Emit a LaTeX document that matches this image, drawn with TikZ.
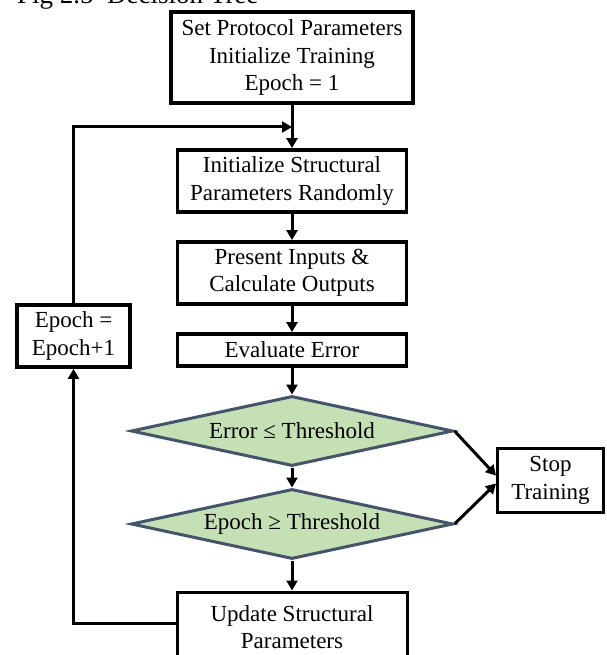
\documentclass[tikz,border=0pt]{standalone}
\usepackage{fontspec}
\setmainfont{Liberation Serif}
\usetikzlibrary{arrows.meta,shapes.geometric,calc}

\definecolor{decfill}{RGB}{197,224,180}
\definecolor{decline}{RGB}{68,84,106}

\tikzset{
  every node/.style={font=\fontsize{23}{27.5}\selectfont, align=center, inner sep=0pt},
  procbox/.style={draw=black, line width=3.8pt, fill=white},
  thinbox/.style={draw=black, line width=3pt, fill=white},
  decision/.style={diamond, draw=decline, fill=decfill, line width=3pt,
                   aspect=4.5, minimum width=322pt, minimum height=70pt},
  flow/.style={draw=black, line width=3pt,
               -{Triangle[width=11pt,length=10pt]}},
}

\begin{document}
\begin{tikzpicture}[x=1pt,y=-1pt]
  \useasboundingbox (0,0) rectangle (606,655);
  \clip (0,0) rectangle (606,655);

  % caption above the chart
  \node[anchor=base west, font=\fontsize{27}{32}\selectfont] (caption) at (17,4)
       {Fig 2.5\ \ Decision Tree};

  % main column
  \node[procbox, minimum width=242pt, minimum height=91pt] (setup) at (292,57.5)
       {Set Protocol Parameters\\Initialize Training\\Epoch = 1};
  \node[procbox, minimum width=229pt, minimum height=62pt] (init) at (292,181)
       {Initialize Structural\\Parameters Randomly};
  \node[procbox, minimum width=229pt, minimum height=62pt] (present) at (292,273)
       {Present Inputs \&\\Calculate Outputs};
  \node[procbox, minimum width=229pt, minimum height=32pt] (eval) at (292,350)
       {Evaluate Error};
  \node[decision] (errdec) at (292,431) {Error ≤ Threshold};
  \node[decision] (epochdec) at (292,524) {Epoch ≥ Threshold};
  \node[thinbox, minimum width=230pt, minimum height=70pt] (update) at (292,627)
       {Update Structural\\Parameters};

  % side boxes
  \node[procbox, minimum width=113pt, minimum height=62pt] (inc) at (73.5,336)
       {Epoch =\\Epoch+1};
  \node[thinbox, minimum width=106pt, minimum height=64pt] (stop) at (550.5,480.5)
       {Stop\\Training};

  % junction points of the epoch loop
  \coordinate (merge) at (292,127);
  \coordinate (back) at (177,623);

  % main flow
  \draw[flow] (setup.south) -- (init.north);
  \draw[flow] (init.south) -- (present.north);
  \draw[flow] (present.south) -- (eval.north);
  \draw[flow] (eval.south) -- (errdec.north);
  \draw[flow] (errdec.south) -- (epochdec.north);
  \draw[flow] (epochdec.south) -- (update.north);

  % exits to stop
  \draw[flow] (errdec.east) -- ($(stop.west)+(0,-5)$);
  \draw[flow] (epochdec.east) -- ($(stop.west)+(0,3)$);

  % epoch loop
  \draw[flow] (back) -| (inc.south);
  \draw[flow] (inc.north) |- (merge);
\end{tikzpicture}
\end{document}
